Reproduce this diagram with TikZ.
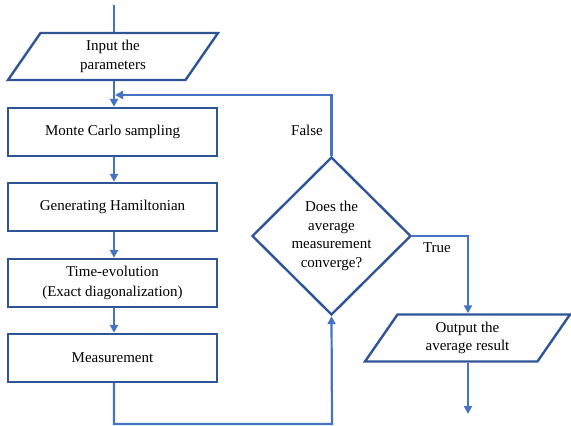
\documentclass[tikz,border=0pt]{standalone}
\usepackage{fontspec}
\setmainfont{Liberation Serif}
\usepackage{tikz}
\usetikzlibrary{arrows.meta,shapes.geometric,positioning}
\definecolor{boxblue}{RGB}{47,85,151}
\definecolor{lineblue}{RGB}{68,114,196}
\tikzset{
    process/.style={
    rectangle,draw=boxblue,line width=2.4pt,minimum width=209pt,minimum height=48pt,
    align=center,font=\fontsize{15}{20}\selectfont
    },
    io/.style={
    trapezium,trapezium left angle=48,trapezium right angle=132,trapezium stretches body,
    draw=boxblue,line width=2.4pt,minimum width=210pt,minimum height=47pt,inner sep=2pt,
    align=center,font=\fontsize{15}{18.5}\selectfont
    },
    decision/.style={
    diamond,draw=boxblue,line width=2.4pt,minimum width=159pt,minimum height=158pt,inner sep=0pt,
    align=center,font=\fontsize{15}{18.5}\selectfont
    },
    flow/.style={
    draw=lineblue,line width=2.2pt,-{Triangle[length=8pt,width=8pt]}
    },
    plain/.style={
    draw=lineblue,line width=2.2pt
    },
    tag/.style={
    font=\fontsize{15}{18}\selectfont
    },
}
\begin{document}
\begin{tikzpicture}[x=1pt,y=-1pt]
   \useasboundingbox (0,0) rectangle (571,426);
   \node[io] (input) at (113,56.5) {Input the\\parameters};
   \node[process] (mc) at (112.5,132) {Monte Carlo sampling};
   \node[process] (ham) at (112.5,207) {Generating Hamiltonian};
   \node[process] (te) at (112.5,283) {Time-evolution\\(Exact diagonalization)};
   \node[process] (meas) at (112.5,358) {Measurement};
   \node[decision] (dec) at (331.5,236) {Does the\\average\\measurement\\converge?};
   \node[io,minimum width=205pt] (out) at (467.5,338) {Output the\\average result};
   \node[tag] (false) at (307,130) {False};
   \node[tag] (true) at (437,248) {True};

   \coordinate (start) at (114,5);
   \coordinate (join) at (115,95);
   \coordinate (bottom) at (332,424);
   \coordinate (finish) at (468,414);

   \path[plain] (start) -- (input.north -| start);
   \path[flow] (input.south -| start) -- (mc.north -| start);
   \path[flow] (mc.south -| start) -- (ham.north -| start);
   \path[flow] (ham.south -| start) -- (te.north -| start);
   \path[flow] (te.south -| start) -- (meas.north -| start);
   \path[flow] (meas.south -| start) |- (bottom) -- (dec.south);
   \path[flow] (dec.north) |- (join);
   \path[flow] (dec.east) -| (out.north -| finish);
   \path[flow] (out.south -| finish) -- (finish);
\end{tikzpicture}
\end{document}
